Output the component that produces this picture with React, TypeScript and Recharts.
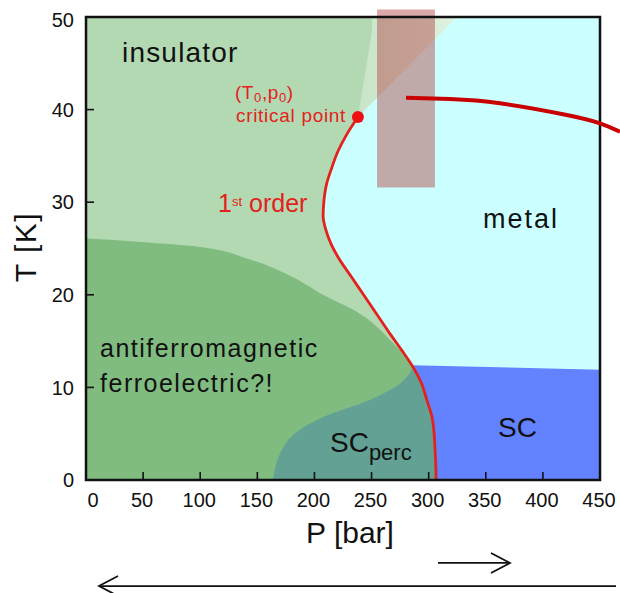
import {
  ComposedChart,
  Area,
  Line,
  XAxis,
  YAxis,
  ReferenceArea,
  ReferenceDot,
  ReferenceLine,
} from 'recharts'

const FONT = '"Liberation Sans", Arial, Helvetica, sans-serif'
const INK = '#111111'
const RED = '#e4221d'

// axis ticks: T in K, P in bar
const T_TICKS = [0, 10, 20, 30, 40, 50]
const P_TICKS = [0, 50, 100, 150, 200, 250, 300, 350, 400, 450]

// first-order insulator/metal line: P (bar) at each T (K), ending at the critical point
const FIRST_ORDER_T = [0, 1.6, 3.2, 5.1, 6.8, 8.6, 10.5, 12.2, 14, 16, 18, 20, 22, 24, 25.5, 27, 28.5, 30, 32, 33.7, 35.5, 37.3, 39.2]
const FIRST_ORDER_P = [306.5, 306.2, 305.6, 304.7, 302.9, 298.5, 293.5, 286.3, 276.5, 265, 254, 243, 232, 221, 214.5, 210, 207.6, 208.2, 210.7, 215.1, 220.6, 228.2, 238.1]

const CRITICAL_P = 238.1
const CRITICAL_T = 39.2

// crossover wedge opening up from the critical point
const WEDGE_T = [39.2, 48.5, 50]
const WEDGE_LEFT = [238.1, 250.4, 251]
const WEDGE_RIGHT = [238.1, 312.8, 324.8]

// antiferromagnetic dome: right edge P at each T
const AFM_T = [0, 1.6, 3.2, 5.1, 6.8, 8.6, 10.5, 12.2, 14.8, 18.4, 19.9, 21.9, 23.8, 25.2, 25.7, 26.1]
const AFM_P = [306.5, 306.2, 305.6, 304.7, 302.9, 298.5, 293.5, 286.3, 268.8, 233.8, 209.2, 181.2, 143.6, 98.1, 47.3, 0]

// percolating superconductivity pocket
const PERC_T = [0, 1.6, 3.2, 5.1, 6.8, 8.6, 10.5, 12.2]
const PERC_LEFT = [163.7, 166.3, 171.3, 183.6, 208, 247.7, 275.8, 286.3]
const PERC_RIGHT = [306.5, 306.2, 305.6, 304.7, 302.9, 298.5, 293.5, 286.3]

// bulk superconductor
const SC_T = [0, 1.6, 3.2, 5.1, 6.8, 8.6, 10.5, 11.9, 12.4]
const SC_LEFT = [306.5, 306.2, 305.6, 304.7, 302.9, 298.5, 293.5, 288, 285.3]
const SC_RIGHT = [450, 450, 450, 450, 450, 450, 450, 450, 285.3]

// metal fills the whole window underneath
const METAL_T = [0, 50]

// high-temperature boundary running off the right edge
const UPPER_P = [280.2, 318.7, 362.5, 420.9, 450, 467.5]
const UPPER_T = [41.28, 41.14, 40.68, 39.42, 38.52, 37.61]

// highlighted band near the crossover
const BAND_P = [254.8, 305.5]
const BAND_T = [31.6, 50.8]

// pressure arrows under the axis
const ARROW_SHORT = [{ x: 308.2, y: -8.96 }, { x: 371.2, y: -8.96 }]
const ARROW_LONG = [{ x: 464, y: -11.45 }, { x: 11.4, y: -11.45 }]

const range = (ts: number[], lo: number[], hi: number[]) =>
  ts.map((T, i) => ({ T, v: [lo[i], hi[i]] }))

const metalData = range(METAL_T, [0, 0], [450, 450])
const insulatorData = range(
  [...FIRST_ORDER_T, ...WEDGE_T.slice(1)],
  [...FIRST_ORDER_T, ...WEDGE_T.slice(1)].map(() => 0),
  [...FIRST_ORDER_P, ...WEDGE_LEFT.slice(1)],
)
const wedgeData = range(WEDGE_T, WEDGE_LEFT, WEDGE_RIGHT)
const afmData = range(AFM_T, AFM_T.map(() => 0), AFM_P)
const percData = range(PERC_T, PERC_LEFT, PERC_RIGHT)
const scData = range(SC_T, SC_LEFT, SC_RIGHT)
const firstOrderData = FIRST_ORDER_T.map((T, i) => ({ T, P: FIRST_ORDER_P[i] }))
const upperData = UPPER_T.map((T, i) => ({ T, P: UPPER_P[i] }))

function YTick(props: any) {
  const { x, y, payload } = props
  const v = payload.value
  return (
    <g>
      {v > 0 && v < 50 && (
        <line x1={x + 12} x2={x + 20} y1={y} y2={y} stroke={INK} strokeWidth={1.6} />
      )}
      <text x={x} y={y + (v === 50 ? 3 : 0)} dy="0.36em" textAnchor="end" fontSize={20} fill={INK} fontFamily={FONT}>
        {v}
      </text>
    </g>
  )
}

function XTick(props: any) {
  const { x, y, payload } = props
  const v = payload.value
  return (
    <g>
      {v > 0 && v < 450 && (
        <line x1={x} x2={x} y1={y - 13} y2={y - 21} stroke={INK} strokeWidth={1.6} />
      )}
      <text x={x + (v === 0 ? 7 : -1)} y={y} dy="0.71em" textAnchor="middle" fontSize={20} fill={INK} fontFamily={FONT}>
        {v}
      </text>
    </g>
  )
}

function XTitle(props: any) {
  const vb = props.viewBox || { x: 86, y: 480, width: 514 }
  return (
    <text x={vb.x + vb.width / 2 + 7} y={vb.y + 63} textAnchor="middle" fontSize={30} fill={INK} fontFamily={FONT}>
      P [bar]
    </text>
  )
}

function YTitle(props: any) {
  const vb = props.viewBox || { x: 0, y: 17, height: 463 }
  const x = vb.x + 36
  const y = vb.y + vb.height / 2 - 1.5
  return (
    <text x={x} y={y} transform={`rotate(-90 ${x} ${y})`} textAnchor="middle" fontSize={30} letterSpacing={1.5} fill={INK} fontFamily={FONT}>
      T [K]
    </text>
  )
}

function Arrow(props: any) {
  const { x1, y1, x2, y2 } = props
  const a = Math.atan2(y2 - y1, x2 - x1)
  const len = 19
  const half = 10
  const bx = x2 - len * Math.cos(a)
  const by = y2 - len * Math.sin(a)
  const px = -Math.sin(a) * half
  const py = Math.cos(a) * half
  return (
    <g stroke={INK} strokeWidth={1.8} fill="none">
      <line x1={x1} y1={y1} x2={x2} y2={y2} />
      <polyline points={`${bx + px},${by + py} ${x2},${y2} ${bx - px},${by - py}`} />
    </g>
  )
}

const note = (content: (cx: number, cy: number) => any) => (p: any) => content(p.cx, p.cy)

export default function App() {
  return (
    <div style={{ position: 'absolute', left: 0, top: 0, width: 620, height: 593, background: '#ffffff', fontFamily: FONT }}>
      {/* the upper boundary keeps going past the frame */}
      <style>{'.upper-curve, .upper-curve * { clip-path: none !important; }'}</style>
      <ComposedChart
        width={620}
        height={593}
        layout="vertical"
        margin={{ top: 17, right: 20, bottom: 0, left: 0 }}
      >
        <defs>
          <linearGradient id="wedgeFill" x1="0" y1="0" x2="1" y2="0">
            <stop offset="0%" stopColor="#c8e4c8" />
            <stop offset="100%" stopColor="#e0f1e0" />
          </linearGradient>
        </defs>
        <XAxis
          type="number"
          domain={[0, 450]}
          ticks={P_TICKS}
          interval={0}
          allowDataOverflow
          axisLine={false}
          tickLine={false}
          tickSize={0}
          tickMargin={13}
          height={113}
          tick={(p: any) => <XTick {...p} />}
          label={<XTitle />}
        />
        <YAxis
          type="number"
          dataKey="T"
          domain={[0, 50]}
          ticks={T_TICKS}
          interval={0}
          reversed
          allowDataOverflow
          width={86}
          axisLine={false}
          tickLine={false}
          tickSize={0}
          tickMargin={12}
          tick={(p: any) => <YTick {...p} />}
          label={<YTitle />}
        />

        <Area data={metalData} dataKey="v" type="linear" fill="#ccffff" fillOpacity={1} stroke="none" isAnimationActive={false} activeDot={false} />
        <Area data={insulatorData} dataKey="v" type="monotone" fill="#b3d9b3" fillOpacity={1} stroke="none" isAnimationActive={false} activeDot={false} />
        <Area data={wedgeData} dataKey="v" type="linear" fill="url(#wedgeFill)" fillOpacity={1} stroke="none" isAnimationActive={false} activeDot={false} />
        <Area data={afmData} dataKey="v" type="monotone" fill="#80bc80" fillOpacity={1} stroke="none" isAnimationActive={false} activeDot={false} />
        <Area data={percData} dataKey="v" type="monotone" fill="#62a194" fillOpacity={1} stroke="none" isAnimationActive={false} activeDot={false} />
        <Area data={scData} dataKey="v" type="linear" fill="#6282ff" fillOpacity={1} stroke="none" isAnimationActive={false} activeDot={false} />

        <Line data={firstOrderData} dataKey="P" type="monotone" stroke={RED} strokeWidth={2.8} dot={false} activeDot={false} isAnimationActive={false} />

        <ReferenceArea
          x1={BAND_P[0]}
          x2={BAND_P[1]}
          y1={BAND_T[0]}
          y2={BAND_T[1]}
          ifOverflow="visible"
          fill="#b04444"
          fillOpacity={0.46}
          stroke="none"
          zIndex={450}
        />

        <ReferenceArea x1={0} x2={450} y1={0} y2={50} ifOverflow="visible" fill="none" stroke={INK} strokeWidth={2.5} zIndex={460} />

        <Line
          className="upper-curve"
          data={upperData}
          dataKey="P"
          type="natural"
          stroke="#c80000"
          strokeWidth={4}
          dot={false}
          activeDot={false}
          isAnimationActive={false}
          zIndex={470}
        />

        <ReferenceDot x={CRITICAL_P} y={CRITICAL_T} r={6} fill="#ee1111" stroke="none" ifOverflow="visible" zIndex={480} />

        <ReferenceLine segment={ARROW_SHORT} ifOverflow="visible" shape={Arrow} zIndex={480} />
        <ReferenceLine segment={ARROW_LONG} ifOverflow="visible" shape={Arrow} zIndex={480} />

        <ReferenceDot x={31.5} y={45.14} ifOverflow="visible" zIndex={600}
          shape={note((cx, cy) => (
            <text x={cx} y={cy} fontSize={28} letterSpacing={1.2} fill={INK} fontFamily={FONT}>insulator</text>
          ))}
        />
        <ReferenceDot x={347.6} y={27.21} ifOverflow="visible" zIndex={600}
          shape={note((cx, cy) => (
            <text x={cx} y={cy} fontSize={27} letterSpacing={2} fill={INK} fontFamily={FONT}>metal</text>
          ))}
        />
        <ReferenceDot x={12.3} y={13.28} ifOverflow="visible" zIndex={600}
          shape={note((cx, cy) => (
            <text x={cx} y={cy} fontSize={25} letterSpacing={1.5} fill={INK} fontFamily={FONT}>
              antiferromagnetic
              <tspan x={cx} dy={35}>ferroelectric?!</tspan>
            </text>
          ))}
        />
        <ReferenceDot x={130.4} y={41.14} ifOverflow="visible" zIndex={600}
          shape={note((cx, cy) => (
            <text x={cx} y={cy} fontSize={19} letterSpacing={0.6} fill={RED} fontFamily={FONT}>
              (T<tspan fontSize={13} dy={3}>0</tspan>
              <tspan dy={-3}>,p</tspan>
              <tspan fontSize={13} dy={3}>0</tspan>
              <tspan dy={-3}>)</tspan>
            </text>
          ))}
        />
        <ReferenceDot x={131.3} y={38.66} ifOverflow="visible" zIndex={600}
          shape={note((cx, cy) => (
            <text x={cx} y={cy} fontSize={19} letterSpacing={0.7} fill={RED} fontFamily={FONT}>critical point</text>
          ))}
        />
        <ReferenceDot x={115.6} y={28.94} ifOverflow="visible" zIndex={600}
          shape={note((cx, cy) => (
            <text x={cx} y={cy} fontSize={25} fill={RED} fontFamily={FONT}>
              1<tspan fontSize={13} dy={-6}>st</tspan>
              <tspan dy={6}> order</tspan>
            </text>
          ))}
        />
        <ReferenceDot x={213.6} y={3.02} ifOverflow="visible" zIndex={600}
          shape={note((cx, cy) => (
            <text x={cx} y={cy} fontSize={28} fill={INK} fontFamily={FONT}>
              SC<tspan fontSize={22} dy={8}>perc</tspan>
            </text>
          ))}
        />
        <ReferenceDot x={360.7} y={4.64} ifOverflow="visible" zIndex={600}
          shape={note((cx, cy) => (
            <text x={cx} y={cy} fontSize={28} fill={INK} fontFamily={FONT}>SC</text>
          ))}
        />
      </ComposedChart>
    </div>
  )
}
